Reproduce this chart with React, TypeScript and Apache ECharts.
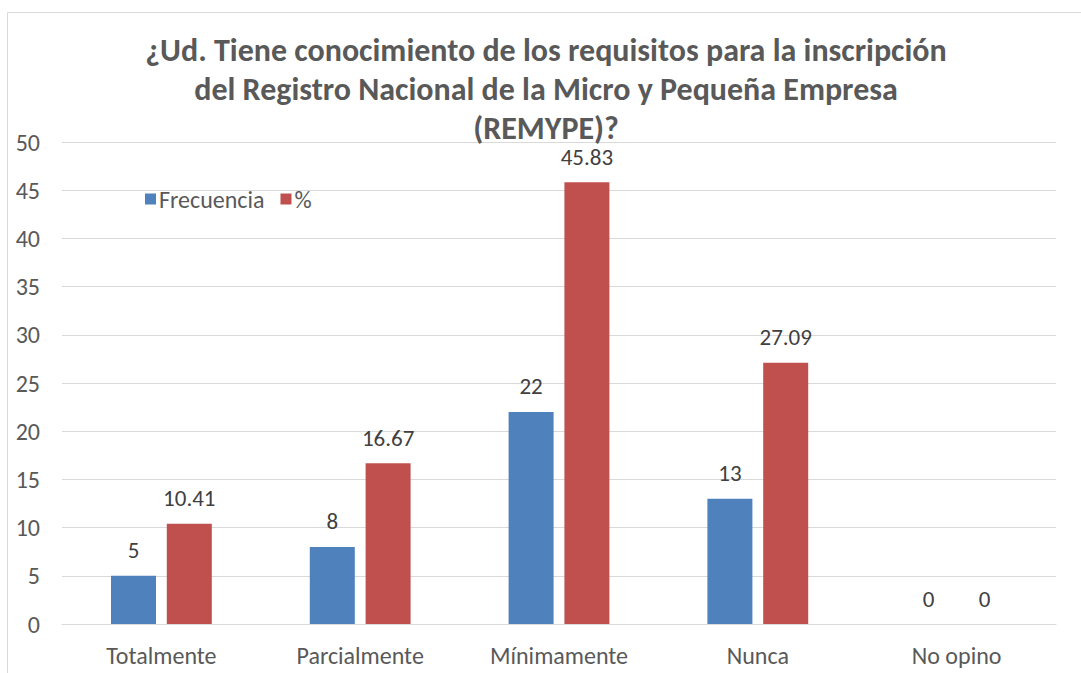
import React, { useEffect, useRef } from "react";
import * as echarts from "echarts";

const categories = ["Totalmente", "Parcialmente", "Mínimamente", "Nunca", "No opino"];
const frecuencia = [5, 8, 22, 13, 0];
const porcentaje = [10.41, 16.67, 45.83, 27.09, 0];
const titleText =
  "¿Ud. Tiene conocimiento de los requisitos para la inscripción\ndel Registro Nacional de la Micro y Pequeña Empresa\n(REMYPE)?";

const FONT = "Carlito, Calibri, Lato, sans-serif";

export default function App() {
  const ref = useRef<HTMLDivElement>(null);
  useEffect(() => {
    if (!ref.current) return;
    const chart = echarts.init(ref.current, undefined, { renderer: "svg" });
    chart.setOption({
      animation: false,
      backgroundColor: "#ffffff",
      textStyle: { fontFamily: FONT },
      title: {
        text: titleText,
        left: 541,
        top: 26,
        textAlign: "center",
        textStyle: {
          fontFamily: FONT,
          fontSize: 32,
          fontWeight: "bold",
          color: "#595959",
          lineHeight: 39,
        },
      },
      graphic: [
        {
          type: "rect",
          shape: { x: 7.5, y: 12.5, width: 1200, height: 800 },
          style: { fill: "none", stroke: "#d9d9d9", lineWidth: 1 },
          z: -1,
        },
      ],
      legend: {
        left: 140,
        top: 182,
        itemWidth: 11,
        itemHeight: 11,
        itemGap: 16,
        icon: "rect",
        textStyle: { fontFamily: FONT, fontSize: 24, color: "#595959", padding: [0, 0, 0, -2] },
        data: ["Frecuencia", "%"],
      },
      grid: { left: 62, right: 25, top: 142, bottom: 49 },
      xAxis: {
        type: "category",
        data: categories,
        axisLine: { lineStyle: { color: "#d9d9d9" } },
        axisTick: { show: false },
        axisLabel: { fontFamily: FONT, fontSize: 24, color: "#595959", margin: 19 },
      },
      yAxis: {
        type: "value",
        min: 0,
        max: 50,
        interval: 5,
        axisLine: { show: false },
        axisTick: { show: false },
        splitLine: { lineStyle: { color: "#d9d9d9" } },
        axisLabel: { fontFamily: FONT, fontSize: 24, color: "#595959", margin: 22 },
      },
      series: [
        {
          name: "Frecuencia",
          type: "bar",
          data: frecuencia,
          barWidth: 45,
          barGap: "24%",
          itemStyle: { color: "#4f81bd" },
          label: {
            show: true,
            position: "top",
            distance: 14,
            fontFamily: FONT,
            fontSize: 23,
            color: "#404040",
          },
        },
        {
          name: "%",
          type: "bar",
          data: porcentaje,
          barWidth: 45,
          itemStyle: { color: "#c0504d" },
          label: {
            show: true,
            position: "top",
            distance: 14,
            fontFamily: FONT,
            fontSize: 23,
            color: "#404040",
          },
        },
      ],
    });
    return () => chart.dispose();
  }, []);
  return (
    <div
      ref={ref}
      style={{ position: "fixed", left: 0, top: 0, width: 1081, height: 673 }}
    />
  );
}
